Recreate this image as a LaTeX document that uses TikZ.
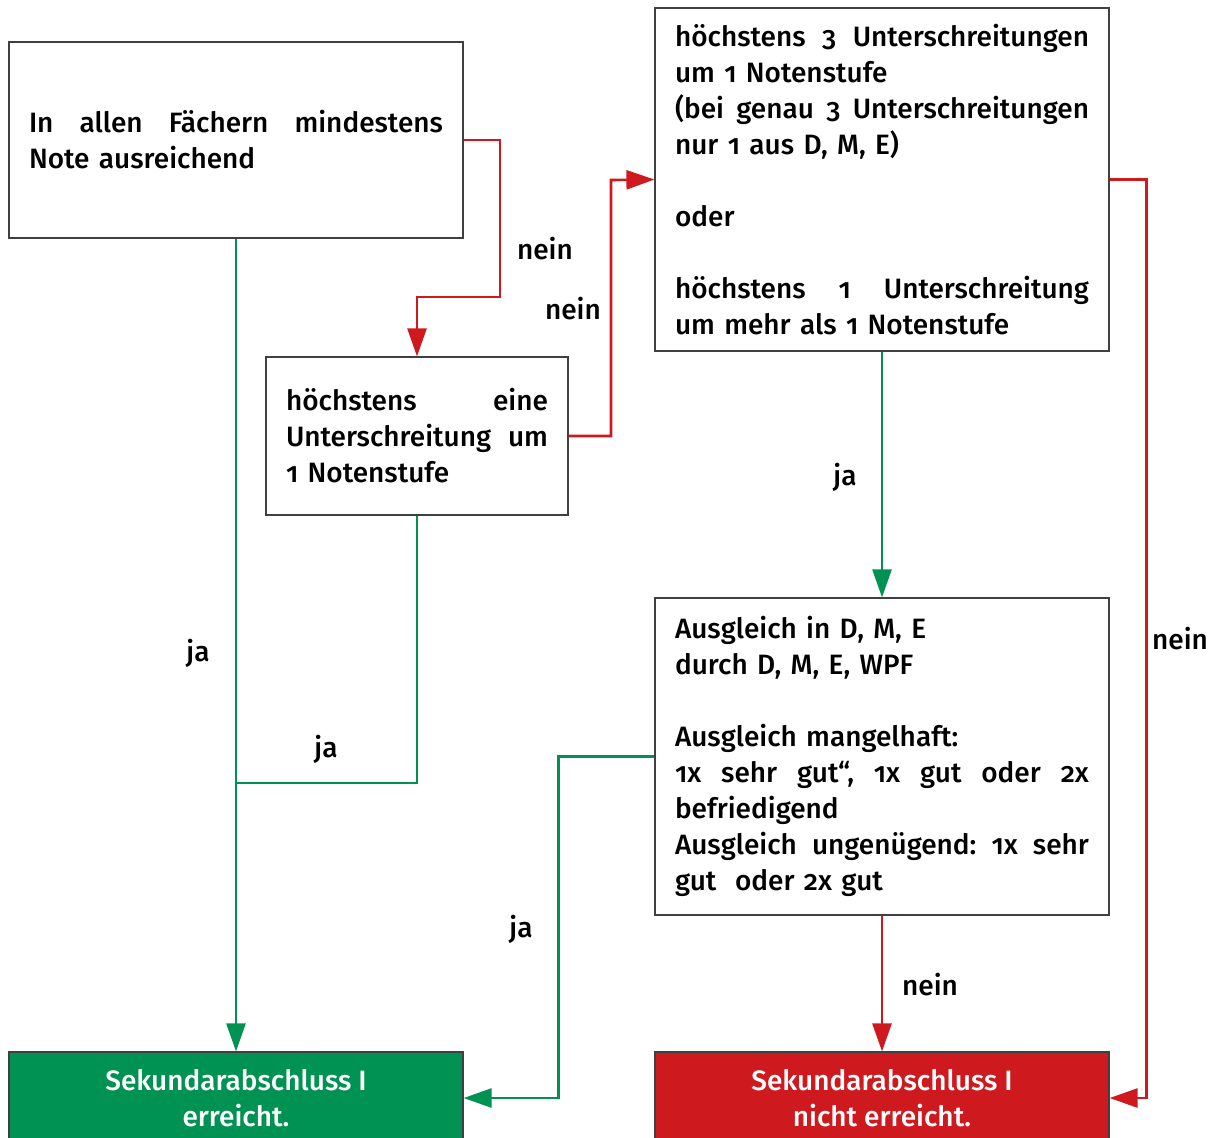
\documentclass[tikz,border=0pt]{standalone}
\usepackage{fontspec}
\setmainfont{Fira Sans Medium}[Numbers=OldStyle]
\usetikzlibrary{arrows.meta}
\frenchspacing

\definecolor{passgreen}{RGB}{0,146,82}
\definecolor{failred}{RGB}{206,25,30}
\newcommand{\fullline}[2][207pt]{\makebox[#1][s]{\spaceskip=0pt\xspaceskip=0pt #2}}

\begin{document}
\begin{tikzpicture}[x=0.5pt, y=-0.5pt,
  every node/.style={font=\fontsize{14}{18}\selectfont},
  check/.style={draw=black!75, line width=0.6pt, align=left, inner xsep=10pt, inner ysep=3pt},
  result/.style={draw=black!75, line width=0.6pt, text=white, align=center,
    minimum width=227pt, minimum height=46pt},
  yesline/.style={draw=passgreen, line width=1.3pt},
  noline/.style={draw=failred, line width=1.3pt},
  tip/.style={-{Triangle[length=14pt,width=9.5pt]}}
]

  \clip (0,0) rectangle (1219,1137);

  % Checks (coordinates in pixels of the 1219 x 1137 sheet)
  \node[check, text width=207pt, minimum height=98pt] (all) at (236,140)
    {\fullline{In allen Fächern mindestens}\\ Note ausreichend};

  \node[check, text width=131pt, minimum height=79pt] (one) at (417,436)
    {\fullline[131pt]{höchstens eine}\\ \fullline[131pt]{Unterschreitung um}\\ 1 Notenstufe};

  \node[check, text width=207pt, minimum height=171.5pt] (three) at (882,179.5)
    {\fullline{höchstens 3 Unterschreitungen}\\ um 1 Notenstufe\\
     \fullline{(bei genau 3 Unterschreitungen}\\ nur 1 aus D, M, E)\\[18pt]
     oder\\[18pt]
     \fullline{höchstens 1 Unterschreitung}\\ um mehr als 1 Notenstufe};

  \node[check, text width=207pt, minimum height=158.5pt] (comp) at (882,756.5)
    {Ausgleich in D, M, E\\ durch D, M, E, WPF\\[18pt]
     Ausgleich mangelhaft:\\ \fullline{1x sehr gut“, 1x gut oder 2x}\\ befriedigend\\
     \fullline{Ausgleich ungenügend: 1x sehr}\\ gut\ \ oder 2x gut};

  % Results
  \node[result, fill=passgreen] (pass) at (236,1098) {Sekundarabschluss I\\ erreicht.};
  \node[result, fill=failred] (fail) at (882,1098) {Sekundarabschluss I\\ nicht erreicht.};

  % Bends
  \coordinate (bendA) at (500,297);
  \coordinate (bendB) at (611,180);
  \coordinate (join) at (236,783);

  % nein-paths
  \draw[noline, tip] (all.east) -| (bendA) -| (one.north);
  \draw[noline, tip] (one.east) -| (bendB) -- (three.west);
  \draw[noline, tip] (three.east) -- ++(37,0) |- (fail.east);
  \draw[noline, tip] (comp.south) -- (fail.north);

  % ja-paths
  \draw[yesline, tip] (all.south) -- (pass.north);
  \draw[yesline] (one.south) |- (join);
  \draw[yesline, tip] (three.south) -- (comp.north);
  \draw[yesline, tip] (comp.west) -- ++(-96,0) |- (pass.east);

  % Labels
  \node (nA) at (545,249) {nein};
  \node (nB) at (573,309) {nein};
  \node (nC) at (1180,639) {nein};
  \node (nD) at (930,985) {nein};
  \node (jA) at (198,653) {ja};
  \node (jB) at (326,749) {ja};
  \node (jC) at (845,477) {ja};
  \node (jD) at (521,929) {ja};

\end{tikzpicture}
\end{document}
